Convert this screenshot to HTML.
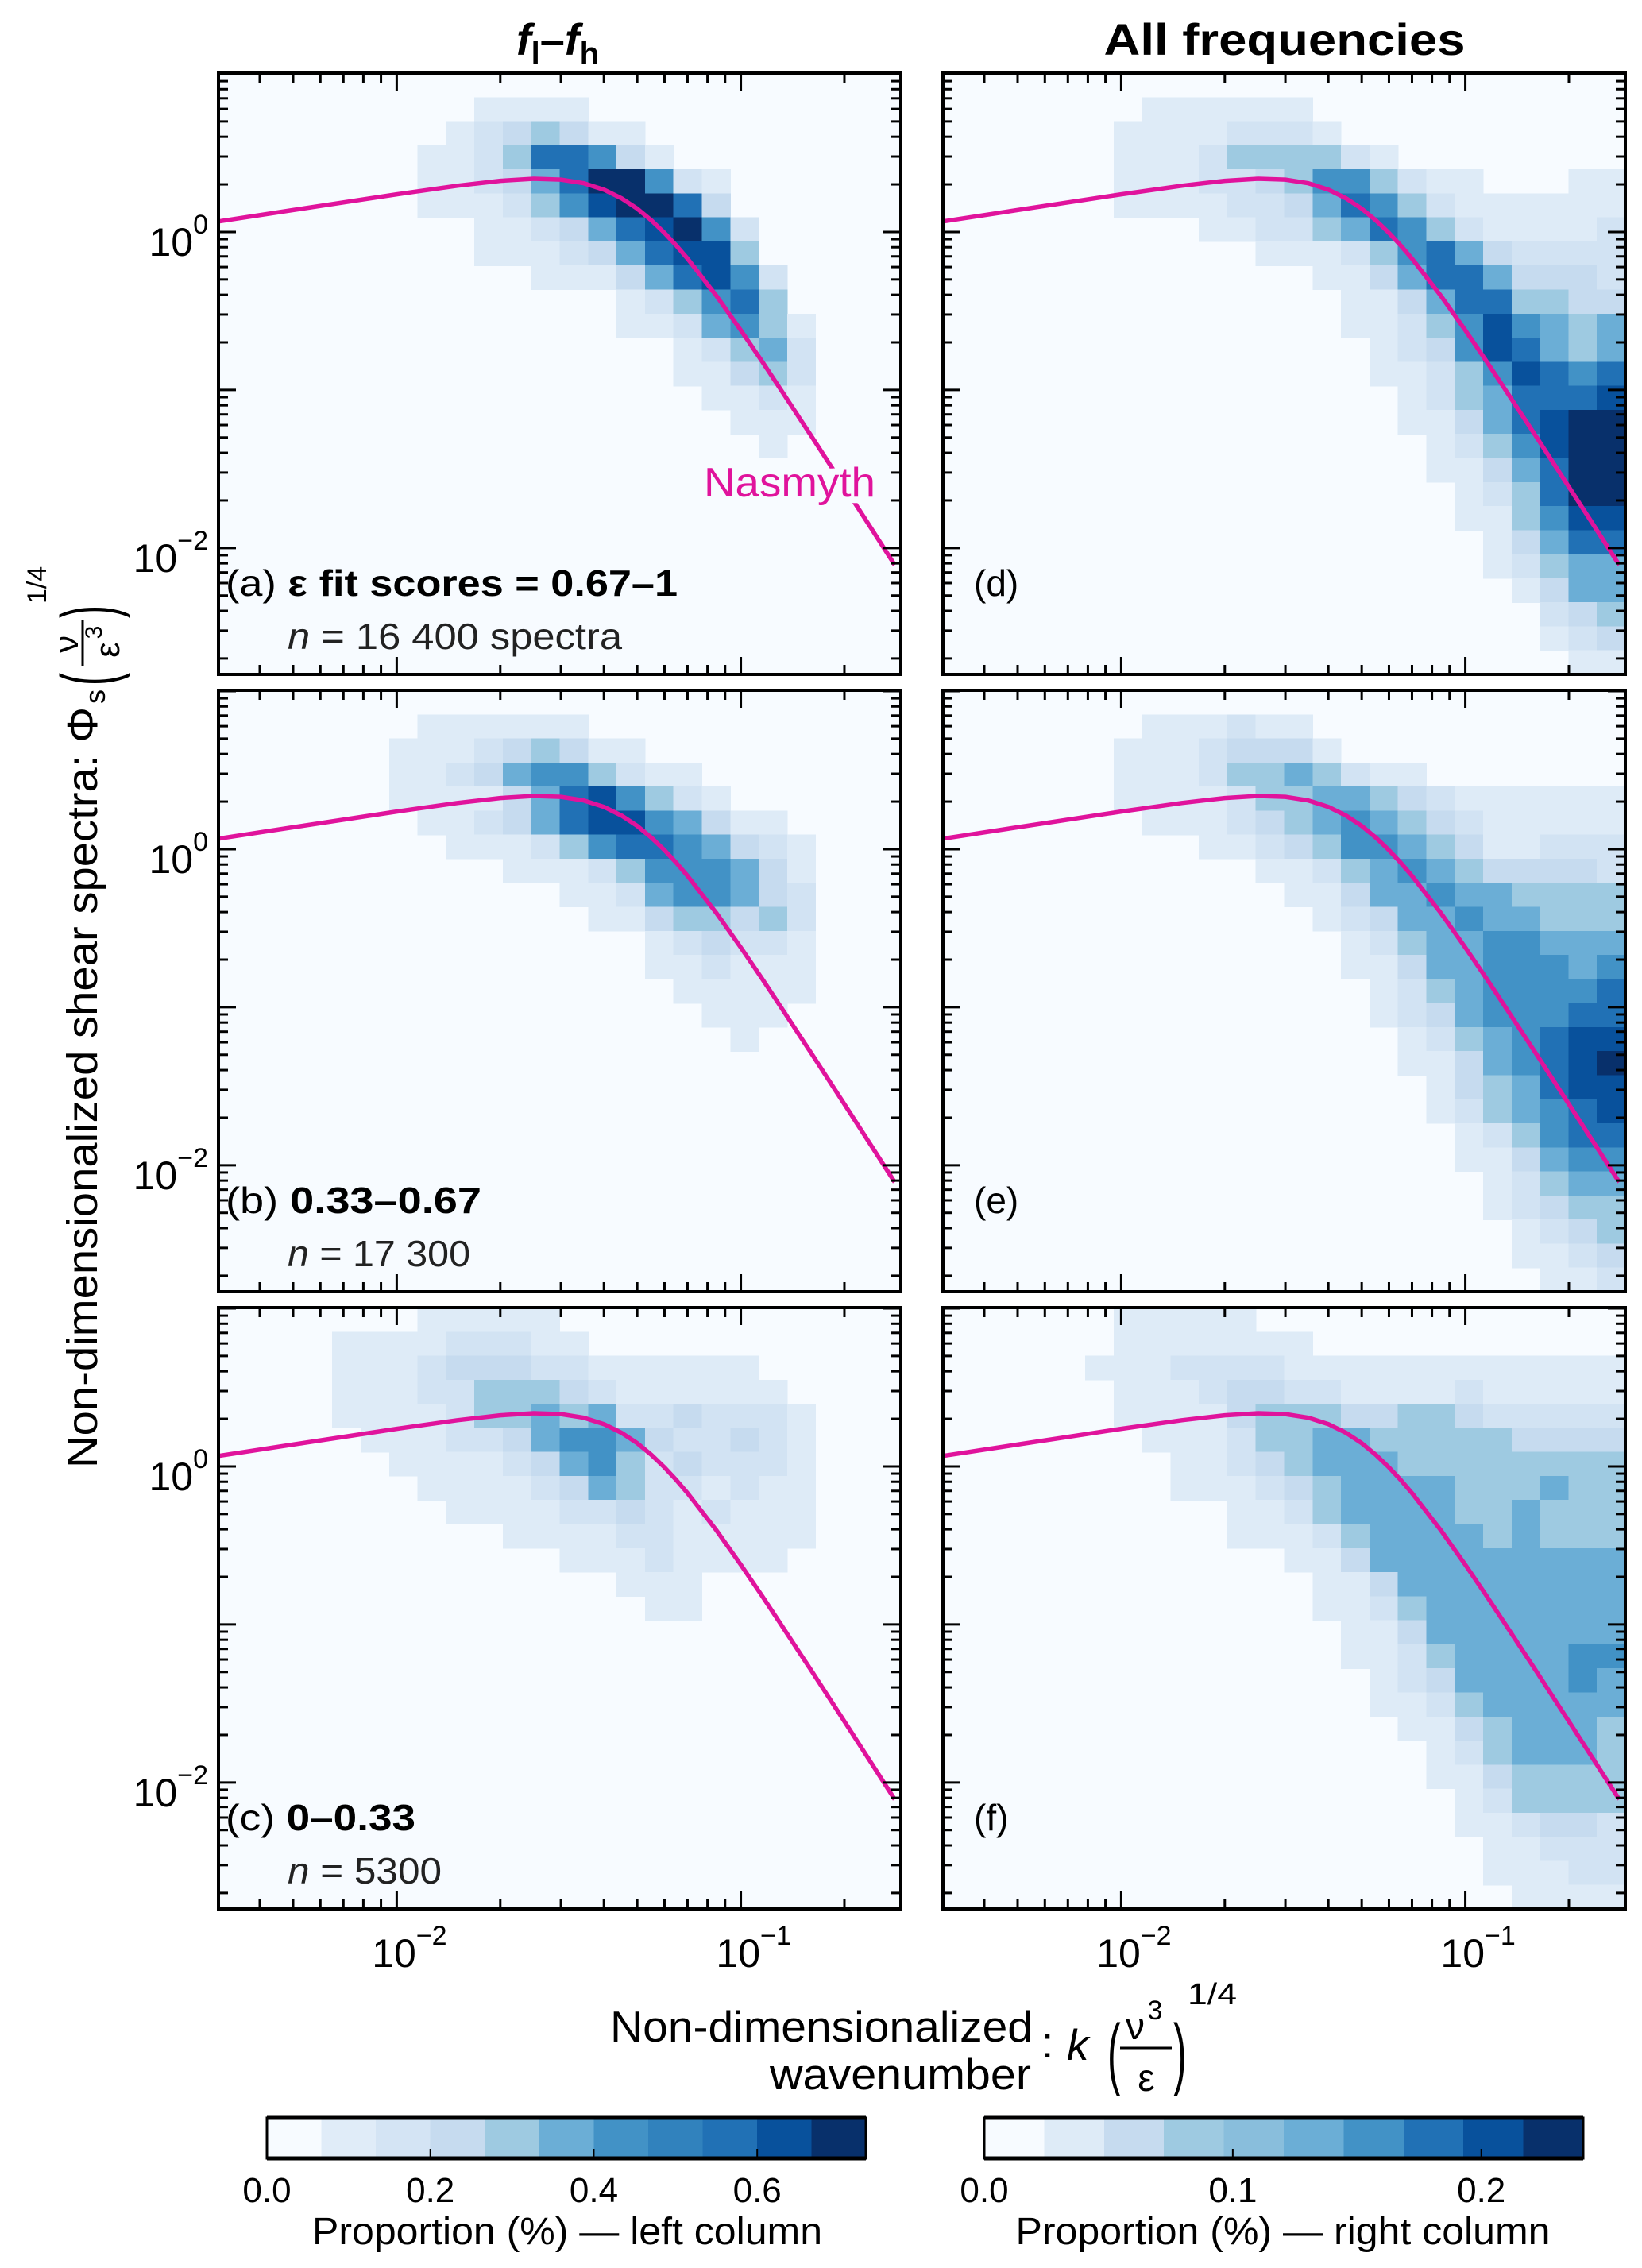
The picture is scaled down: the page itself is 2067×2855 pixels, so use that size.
<!DOCTYPE html>
<html><head><meta charset="utf-8"><title>Nasmyth shear spectra</title>
<style>
html,body{margin:0;padding:0;background:#fff;}
svg{display:block;font-family:"Liberation Sans Narrow","Liberation Sans",sans-serif;}
</style></head>
<body>
<svg id="chart" xmlns="http://www.w3.org/2000/svg" width="2067" height="2855" viewBox="0 0 2067 2855">
<rect x="0" y="0" width="2067" height="2855" fill="#fff"/>
<defs>
<clipPath id="clipL"><rect x="275" y="0" width="859" height="2855"/></clipPath>
<clipPath id="clipR"><rect x="1187" y="0" width="859" height="2855"/></clipPath>
</defs>
<g id="panels"></g>

<!-- Column titles -->
<text x="702" y="69" font-size="56" font-weight="bold" text-anchor="middle" fill="#000"><tspan font-style="italic">f</tspan><tspan font-size="40" dy="12">l</tspan><tspan dy="-12">–</tspan><tspan font-style="italic">f</tspan><tspan font-size="40" dy="12">h</tspan></text>
<text x="1617" y="69" font-size="56" font-weight="bold" text-anchor="middle" textLength="455" lengthAdjust="spacingAndGlyphs" fill="#000">All frequencies</text>

<!-- Panel labels -->
<text x="284" y="750" font-size="46" fill="#000" textLength="569" lengthAdjust="spacingAndGlyphs">(a) <tspan font-weight="bold">ε fit scores = 0.67–1</tspan></text>
<text x="362" y="817" font-size="46" fill="#222" textLength="421" lengthAdjust="spacingAndGlyphs"><tspan font-style="italic">n</tspan> = 16 400 spectra</text>
<text x="284" y="1527" font-size="46" fill="#000" textLength="322" lengthAdjust="spacingAndGlyphs">(b) <tspan font-weight="bold">0.33–0.67</tspan></text>
<text x="362" y="1594" font-size="46" fill="#222" textLength="230" lengthAdjust="spacingAndGlyphs"><tspan font-style="italic">n</tspan> = 17 300</text>
<text x="284" y="2304" font-size="46" fill="#000" textLength="239" lengthAdjust="spacingAndGlyphs">(c) <tspan font-weight="bold">0–0.33</tspan></text>
<text x="362" y="2371" font-size="46" fill="#222" textLength="194" lengthAdjust="spacingAndGlyphs"><tspan font-style="italic">n</tspan> = 5300</text>
<text x="1226" y="750" font-size="46" fill="#000">(d)</text>
<text x="1226" y="1527" font-size="46" fill="#000">(e)</text>
<text x="1226" y="2304" font-size="46" fill="#000">(f)</text>

<!-- Nasmyth label with halo -->
<text x="886" y="625" font-size="52" fill="#e0139c" stroke="#f7fbff" stroke-width="16" paint-order="stroke" textLength="216" lengthAdjust="spacingAndGlyphs">Nasmyth</text>

<!-- Y axis label -->
<g transform="translate(122,1848) rotate(-90)" fill="#000">
<text x="0" y="0" font-size="54" textLength="958" lengthAdjust="spacingAndGlyphs">Non-dimensionalized shear spectra: Φ</text>
<text x="962" y="10" font-size="36">s</text>
<text x="985" y="22" font-size="96" transform="scale(0.5,1) translate(985,0)">(</text>
<text x="1037" y="-24" font-size="44" text-anchor="middle">ν</text>
<line x1="1010" y1="-18" x2="1068" y2="-18" stroke="#000" stroke-width="3"/>
<text x="1030" y="28" font-size="44" text-anchor="middle">ε</text>
<text x="1052" y="6" font-size="30" text-anchor="middle">3</text>
<text x="1070" y="22" font-size="96" transform="scale(0.5,1) translate(1070,0)">)</text>
<text x="1088" y="-64" font-size="34">1/4</text>
</g>

<!-- X axis label -->
<g fill="#000">
<text x="1300" y="2570" font-size="55" text-anchor="end" textLength="532" lengthAdjust="spacingAndGlyphs">Non-dimensionalized</text>
<text x="1298" y="2630" font-size="55" text-anchor="end" textLength="329" lengthAdjust="spacingAndGlyphs">wavenumber</text>
<text x="1311" y="2590" font-size="55">:</text>
<text x="1343" y="2593" font-size="55" font-style="italic">k</text>
<text x="1394" y="2618" font-size="100" transform="translate(697,0) scale(0.5,1)">(</text>
<text x="1429" y="2567" font-size="48" text-anchor="middle">ν</text>
<text x="1454" y="2542" font-size="34" text-anchor="middle">3</text>
<line x1="1410" y1="2578" x2="1475" y2="2578" stroke="#000" stroke-width="3"/>
<text x="1443" y="2632" font-size="48" text-anchor="middle">ε</text>
<text x="1477" y="2618" font-size="100" transform="translate(738.5,0) scale(0.5,1)">)</text>
<text x="1495" y="2523" font-size="38" textLength="62" lengthAdjust="spacingAndGlyphs">1/4</text>
</g>

<g id="colorbars"></g>
<text x="714" y="2825" font-size="48" text-anchor="middle" textLength="642" lengthAdjust="spacingAndGlyphs">Proportion (%) — left column</text>
<text x="1615" y="2825" font-size="48" text-anchor="middle" textLength="673" lengthAdjust="spacingAndGlyphs">Proportion (%) — right column</text>
</svg>

<script>
// ---------- Data ----------
// Heatmap colour-level bins (0 = empty .. 9 = highest proportion); rows top (high Φ) to bottom, 24 wavenumber bins each.
const panelA = [
"000000000000000000000000","000000000111100000000000","000000001234311000000000","000000011247763100000000",
"000000011235799621000000","000000011124689973000000","000000000112357896200000","000000000111235788400000",
"000000000001113578620000","000000000000001246740000","000000000000001125641000","000000000000000012452000",
"000000000000000011342000","000000000000000001121000","000000000000000000111000","000000000000000000010000",
"000000000000000000000000","000000000000000000000000","000000000000000000000000","000000000000000000000000",
"000000000000000000000000","000000000000000000000000","000000000000000000000000","000000000000000000000000",
"000000000000000000000000"];
const panelB = [
"000000000000000000000000","000000011111100000000000","000000111234311000000000","000000112356642110000000",
"000000111135786421000000","000000011235788653110000","000000001112467765321000","000000000011124666531000",
"000000000000112566532000","000000000000011344342000","000000000000000123221000","000000000000000112111000",
"000000000000000011111000","000000000000000001110000","000000000000000000100000","000000000000000000000000",
"000000000000000000000000","000000000000000000000000","000000000000000000000000","000000000000000000000000",
"000000000000000000000000","000000000000000000000000","000000000000000000000000","000000000000000000000000",
"000000000000000000000000"];
const panelC = [
"000000011111000000000000","000011112221100000000000","000011123332211111100000","000011122444321111110000",
"000011112445452232221000","000001112235665322321000","000000111123564232221000","000000011112354221211000",
"000000001111223212111000","000000000011112211111000","000000000000111211110000","000000000000001110000000",
"000000000000000110000000","000000000000000000000000","000000000000000000000000","000000000000000000000000",
"000000000000000000000000","000000000000000000000000","000000000000000000000000","000000000000000000000000",
"000000000000000000000000","000000000000000000000000","000000000000000000000000","000000000000000000000000",
"000000000000000000000000"];
const panelD = [
"000000000000000000000000","000000011111100000000000","000000111122210000000000","000000111244442100000000",
"000000111223466421100011","000000111122357642111111","000000000112245764211112","000000000001112467532222",
"000000000000011357753332","000000000000001135774433","000000000000001124686545","000000000000000123687545",
"000000000000000112468767","000000000000000012457778","000000000000000011357899","000000000000000001246899",
"000000000000000001135799","000000000000000000124799","000000000000000000114688","000000000000000000013577",
"000000000000000000012455","000000000000000000001355","000000000000000000000234","000000000000000000000123",
"000000000000000000000011"];
const panelE = [
"000000000000000000000000","000000011121100000000000","000000111233310000000000","000000111244542110000000",
"000000111124455432111111","000000011123456543211111","000000000112346654311222","000000000001124565433332",
"000000000000113556554444","000000000000012355655444","000000000000001245566555","000000000000001135566656",
"000000000000000124566667","000000000000000123566677","000000000000000012456788","000000000000000011356789",
"000000000000000001345788","000000000000000001245678","000000000000000000124677","000000000000000000113566",
"000000000000000000012455","000000000000000000012344","000000000000000000001234","000000000000000000001123",
"000000000000000000000112"];
const panelF = [
"000000111110000000000000","000000111111100000000000","000001112222111111111111","000000111233221111211111",
"000000111134443344322222","000000011124455444443333","000000001123455544444444","000000001112345555444544",
"000000000011245555445444","000000000011124555545444","000000000000113555555555","000000000000011355555555",
"000000000000011245555555","000000000000001135555555","000000000000001124555566","000000000000000123555565",
"000000000000000112455555","000000000000000011345554","000000000000000001245554","000000000000000001134444",
"000000000000000000124444","000000000000000000112332","000000000000000000011222","000000000000000000011122",
"000000000000000000001111"];

// Nasmyth spectrum sample points (wavenumber, spectrum)
const nasK = [0.003,0.005,0.01,0.015,0.02,0.025,0.03,0.035,0.04,0.045,0.05,0.055,0.06,0.065,0.07,0.085,0.1,0.115,0.13,0.16,0.2,0.24,0.28];
const nasPhi = [1.16,1.376,1.729,1.960,2.107,2.169,2.143,2.031,1.851,1.632,1.402,1.182,0.986,0.818,0.677,0.393,0.2386,0.1527,0.1022,0.0514,0.02433,0.01317,0.00782];

// Axis ticks
const xMajorTicks = [0.01, 0.1];
const xTickExps = ["−2", "−1"];
const yLabelTicks = [1, 0.01];
const yTickExps = ["0", "−2"];

// Colour bars
const cbLeftColors = ['#f7fbff','#e0ecf8','#d4e4f4','#c6dbef','#9ecae1','#6baed6','#4292c6','#3182bd','#2171b5','#08519c','#08306b'];
const cbLeftTicks = [0.0, 0.2, 0.4, 0.6];
const cbLeftMax = 0.733;
const cbRightColors = ['#f7fbff','#deebf7','#c6dbef','#9ecae1','#89bedc','#6baed6','#4292c6','#2171b5','#08519c','#08306b'];
const cbRightTicks = [0.0, 0.1, 0.2];
const cbRightMax = 0.241;

// Heatmap palette for levels 0..9
const levelColors = ['#f7fbff','#deebf7','#d2e3f3','#c6dbef','#9ecae1','#6baed6','#4292c6','#2171b5','#08519c','#08306b'];

// ---------- Drawing ----------
const NS = 'http://www.w3.org/2000/svg';
const svg = document.getElementById('chart');
function mk(tag, attrs, parent){ const e=document.createElementNS(NS,tag); for(const k in attrs) e.setAttribute(k, attrs[k]); parent.appendChild(e); return e; }

const XMIN=-2.518, XMAX=-0.535, YMIN=-2.80, YMAX=1.005;
const W=859, H=757;
const panels = [
  {id:'a', x0:275,  y0:92,   data:panelA, left:true,  bottom:false, clip:'clipL'},
  {id:'b', x0:275,  y0:869,  data:panelB, left:true,  bottom:false, clip:'clipL'},
  {id:'c', x0:275,  y0:1646, data:panelC, left:true,  bottom:true,  clip:'clipL'},
  {id:'d', x0:1187, y0:92,   data:panelD, left:false, bottom:false, clip:'clipR'},
  {id:'e', x0:1187, y0:869,  data:panelE, left:false, bottom:false, clip:'clipR'},
  {id:'f', x0:1187, y0:1646, data:panelF, left:false, bottom:true,  clip:'clipR'}
];
const root = document.getElementById('panels');

panels.forEach(p => {
  const sxL = lv => p.x0 + (lv - XMIN) / (XMAX - XMIN) * W;
  const syL = lv => p.y0 + (YMAX - lv) / (YMAX - YMIN) * H;
  const sx = v => sxL(Math.log10(v));
  const sy = v => syL(Math.log10(v));

  const g = mk('g', {}, root);
  
  

  const bg = mk('rect', {x:p.x0, y:p.y0, width:W, height:H, fill:'#f7fbff'}, g);
  
  

  const nRows = p.data.length, nCols = p.data[0].length;
  const dx = (XMAX - XMIN) / nCols, dy = (YMAX - YMIN) / nRows;
  const hg = mk('g', {'shape-rendering':'crispEdges'}, g);
  
  
  for (let r = 0; r < nRows; r++) {
    for (let c = 0; c < nCols; c++) {
      const lvl = parseInt(p.data[r][c], 10);
      if (!lvl) continue;
      const xa = sxL(XMIN + c*dx), xb = sxL(XMIN + (c+1)*dx);
      const ya = syL(YMAX - r*dy), yb = syL(YMAX - (r+1)*dy);
      const cell = mk('rect', {x:xa.toFixed(1), y:ya.toFixed(1), width:(xb-xa+0.6).toFixed(1), height:(yb-ya+0.6).toFixed(1), fill:levelColors[lvl]}, hg);
      
      
    }
  }

  // Nasmyth curve
  let d = '';
  nasK.forEach((k, i) => { d += (i ? 'L' : 'M') + sx(k).toFixed(1) + ',' + sy(nasPhi[i]).toFixed(1); });
  const line = mk('path', {d:d, fill:'none', stroke:'#e0139c', 'stroke-width':5.5, 'stroke-linejoin':'round', 'clip-path':'url(#'+p.clip+')'}, g);
  
  

  // Ticks
  const tg = mk('g', {stroke:'#000', 'stroke-width':3}, g);
  
  
  const yb = p.y0 + H, xr = p.x0 + W;
  for (let e = -3; e <= 0; e++) {
    for (let m = 1; m <= 9; m++) {
      const v = m * Math.pow(10, e), lv = Math.log10(v);
      if (lv < XMIN || lv > XMAX) continue;
      const x = sx(v), L = (m === 1) ? 22 : 12;
      mk('line', {x1:x, y1:yb, x2:x, y2:yb-L}, tg);
      mk('line', {x1:x, y1:p.y0, x2:x, y2:p.y0+L}, tg);
    }
  }
  for (let e = -3; e <= 1; e++) {
    for (let m = 1; m <= 9; m++) {
      const v = m * Math.pow(10, e), lv = Math.log10(v);
      if (lv < YMIN || lv > YMAX) continue;
      const y = sy(v), L = (m === 1) ? 22 : 12;
      mk('line', {x1:p.x0, y1:y, x2:p.x0+L, y2:y}, tg);
      mk('line', {x1:xr, y1:y, x2:xr-L, y2:y}, tg);
    }
  }

  const frame = mk('rect', {x:p.x0, y:p.y0, width:W, height:H, fill:'none', stroke:'#000', 'stroke-width':4}, g);
  
  

  if (p.left) {
    yLabelTicks.forEach((v, i) => {
      const t = mk('text', {x:262, y:(sy(v)+30).toFixed(1), 'font-size':50, 'text-anchor':'end', fill:'#000'}, g);
      
      
      t.appendChild(document.createTextNode('10'));
      const s = mk('tspan', {'font-size':34, dy:-28}, t);
      s.textContent = yTickExps[i];
    });
  }
  if (p.bottom) {
    xMajorTicks.forEach((v, i) => {
      const t = mk('text', {x:(sx(v)+16).toFixed(1), y:2476, 'font-size':50, 'text-anchor':'middle', fill:'#000'}, g);
      
      
      t.appendChild(document.createTextNode('10'));
      const s = mk('tspan', {'font-size':34, dy:-28}, t);
      s.textContent = xTickExps[i];
    });
  }
});

// Colour bars
const cbRoot = document.getElementById('colorbars');
function colorbar(name, x0, x1, colors, ticks, vmax) {
  const y0 = 2666, y1 = 2717, w = x1 - x0;
  const g = mk('g', {}, cbRoot);
  
  
  const n = colors.length, step = vmax / n;
  colors.forEach((c, i) => {
    const xa = x0 + (i*step)/vmax*w, xb = x0 + ((i+1)*step)/vmax*w;
    const r = mk('rect', {x:xa.toFixed(1), y:y0, width:(xb-xa+0.5).toFixed(1), height:y1-y0, fill:c, 'shape-rendering':'crispEdges'}, g);
    
    
  });
  const f = mk('rect', {x:x0, y:y0, width:w, height:y1-y0, fill:'none', stroke:'#000', 'stroke-width':3}, g);
  
  
  mk('line', {x1:x0, y1:y0, x2:x1, y2:y0, stroke:'#000', 'stroke-width':5}, g);
  mk('line', {x1:x0, y1:y1, x2:x1, y2:y1, stroke:'#000', 'stroke-width':5}, g);
  ticks.forEach(v => {
    const x = x0 + v / vmax * w;
    if (v > 0) mk('line', {x1:x, y1:y1, x2:x, y2:y1-12, stroke:'#000', 'stroke-width':2}, g);
    const t = mk('text', {x:x.toFixed(1), y:2772, 'font-size':44, 'text-anchor':'middle', fill:'#000'}, g);
    
    
    t.textContent = v.toFixed(1);
  });
}
colorbar('colorbar-left', 336, 1090, cbLeftColors, cbLeftTicks, cbLeftMax);
colorbar('colorbar-right', 1239, 1993, cbRightColors, cbRightTicks, cbRightMax);
</script>
</body></html>
